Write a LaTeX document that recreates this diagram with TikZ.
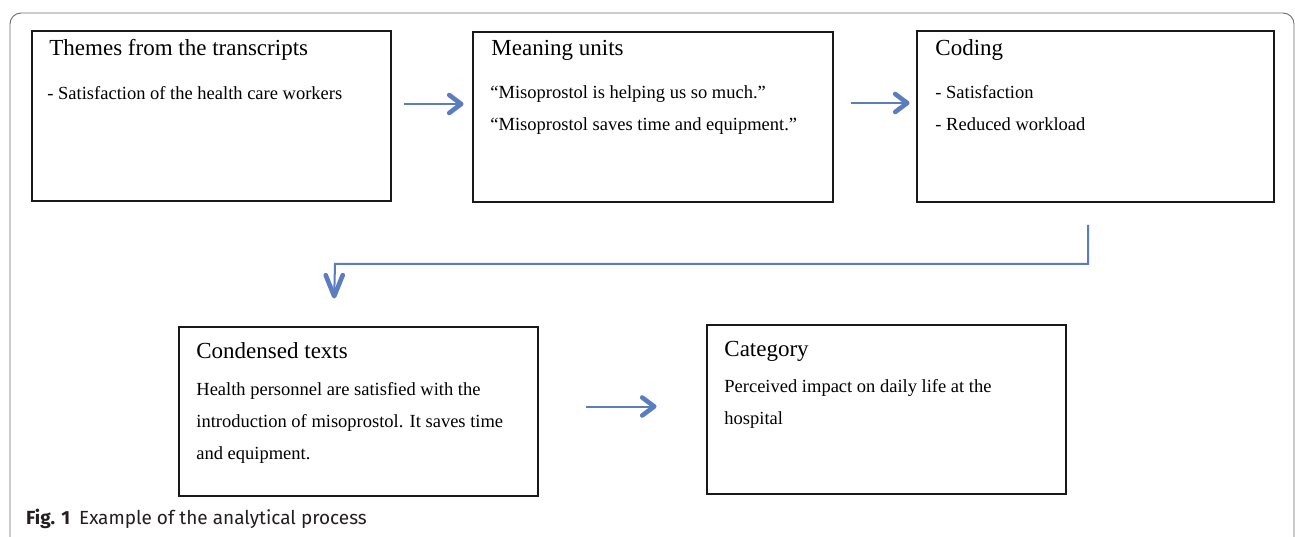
\documentclass[tikz,border=0pt]{standalone}
\usepackage{fontspec}
\setmainfont{Liberation Serif}
\newfontfamily\capfont{Fira Sans}
\usetikzlibrary{calc}
\definecolor{arrblue}{HTML}{5B7DC0}
\definecolor{framegray}{HTML}{6E6E6E}
\definecolor{captext}{HTML}{231F20}
\newcommand{\bodylines}[1]{\vtop{\baselineskip=32pt #1}}
\tikzset{
  box/.style={draw=black!90, line width=1.6pt, inner sep=0pt, fill=white},
  ttl/.style={anchor=base west, inner sep=0pt, font=\fontsize{23}{27}\selectfont},
  bdy/.style={anchor=base west, inner sep=0pt, font=\fontsize{18.5}{32}\selectfont},
  shaft/.style={draw=arrblue, line width=2pt},
  chev/.style={draw=arrblue, line width=4.6pt, line cap=round, line join=round},
}
\begin{document}
\begin{tikzpicture}[x=1pt,y=-1pt]
\useasboundingbox (0,0) rectangle (1295,537);
\fill[white] (0,0) rectangle (1295,537);
% outer frame
\draw[framegray, line width=0.9pt, rounded corners=11pt] (10,545) -- (10,13) -- (1294,13) -- (1294,545);
% boxes
\node[box, minimum width=359pt, minimum height=170pt] (b1) at (211.5,116) {};
\node[box, minimum width=360pt, minimum height=170pt] (b2) at (653,117) {};
\node[box, minimum width=357pt, minimum height=171pt] (b3) at (1095.5,116.5) {};
\node[box, minimum width=359pt, minimum height=169pt] (b4) at (358.5,411.5) {};
\node[box, minimum width=359pt, minimum height=169pt] (b5) at (886.5,409.5) {};
% texts
\node[ttl] (t1) at ($(b1.north west)+(18,25)$) {Themes from the transcripts};
\node[bdy] (d1) at ($(b1.north west)+(16,69)$) {\bodylines{\hbox{- Satisfaction of the health care workers}}};
\node[ttl] (t2) at ($(b2.north west)+(19,24)$) {Meaning units};
\node[bdy] (d2) at ($(b2.north west)+(18,67)$) {\bodylines{\hbox{``Misoprostol is helping us so much.''}\hbox{``Misoprostol saves time and equipment.''}}};
\node[ttl] (t3) at ($(b3.north west)+(19,25)$) {Coding};
\node[bdy] (d3) at ($(b3.north west)+(19,68)$) {\bodylines{\hbox{- Satisfaction}\hbox{- Reduced workload}}};
\node[ttl] (t4) at ($(b4.north west)+(18,32)$) {Condensed texts};
\node[bdy] (d4) at ($(b4.north west)+(18,69)$) {\bodylines{\hbox{Health personnel are satisfied with the}\hbox{introduction of misoprostol. It saves time}\hbox{and equipment.}}};
\node[ttl] (t5) at ($(b5.north west)+(18,32)$) {Category};
\node[bdy] (d5) at ($(b5.north west)+(18,68)$) {\bodylines{\hbox{Perceived impact on daily life at the}\hbox{hospital}}};
% horizontal arrows: start and tip coordinates derived from the boxes
\coordinate (s1) at ($(b1.east)+(12,-12)$);
\coordinate (p1) at ($(b2.west)+(-11,-13)$);
\coordinate (s2) at ($(b2.east)+(17,-14)$);
\coordinate (p2) at ($(b3.west)+(-9,-13.5)$);
\coordinate (s3) at ($(b4.east)+(47,-5)$);
\coordinate (p3) at ($(b5.west)+(-52,-3)$);
\draw[shaft] (s1) -- (p1);
\draw[chev] ($(p1)+(-12,-9)$) -- (p1) -- ($(p1)+(-12,9)$);
\draw[shaft] (s2) -- (p2);
\draw[chev] ($(p2)+(-12,-9)$) -- (p2) -- ($(p2)+(-12,9)$);
\draw[shaft] (s3) -- (p3);
\draw[chev] ($(p3)+(-12,-9)$) -- (p3) -- ($(p3)+(-12,9)$);
% elbow connector
\coordinate (e1) at ($(b3.south)+(-7.5,22)$);
\coordinate (bend) at (335,264);
\coordinate (e2) at ($(b4.north west)+(156,-30)$);
\draw[shaft] (e1) |- (bend) -- (e2);
\draw[chev] ($(e2)+(-8.5,-21)$) -- (e2) -- ($(e2)+(8.5,-21)$);
% caption
\node[anchor=base west, inner sep=0pt, text=captext, font=\capfont\fontsize{19}{22}\selectfont] (cap) at (26,524) {\textbf{Fig. 1}\hspace{9pt}Example of the analytical process};
\end{tikzpicture}
\end{document}
